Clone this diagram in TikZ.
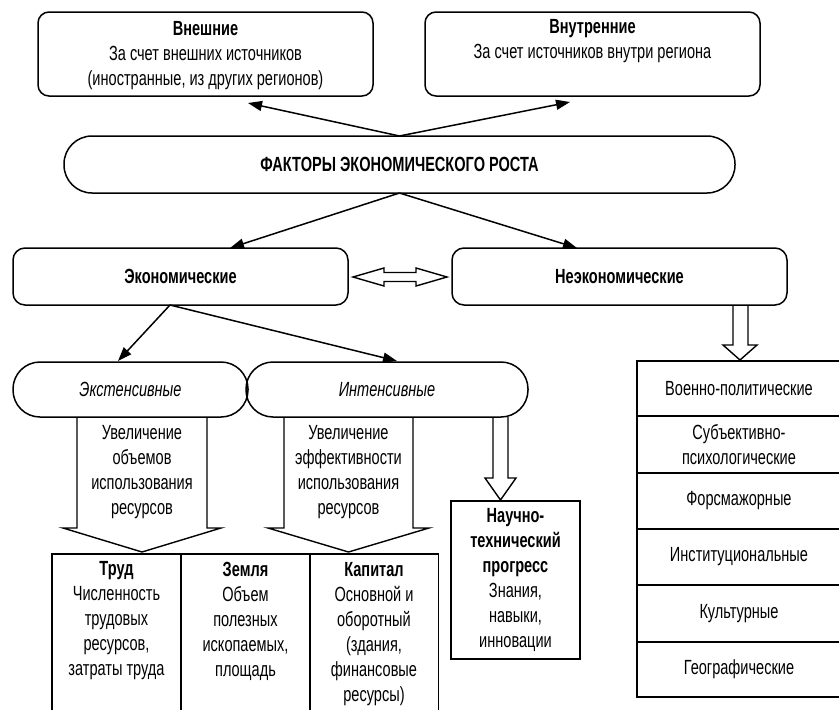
\documentclass[tikz,border=0pt]{standalone}
\usepackage{fontspec}
\setmainfont[FakeStretch=0.71]{Liberation Sans}
\usetikzlibrary{arrows.meta}
\begin{document}
\begin{tikzpicture}[x=1pt,y=-1pt,line width=1.5pt,
  every node/.style={font=\fontsize{20.5}{25}\selectfont, inner sep=0pt, outer sep=0pt},
  box/.style={draw, rounded corners=#1},
  box/.default=11pt,
  lbl/.style={align=center},
  arr/.style={-{Triangle[length=14pt,width=10pt]}},
  blk/.style={draw, line width=1.4pt, line join=miter},
  cell/.style={draw, minimum width=204pt, align=center},
  col/.style={draw, minimum width=129pt, minimum height=170pt, anchor=north}]

\useasboundingbox (0,0) rectangle (839,710);

% top boxes
\node[box, minimum width=335pt, minimum height=84pt] (ext) at (205.5,54) {};
\node[lbl] (extt) at (205.5,55.5) {\textbf{Внешние}\\За счет внешних источников\\(иностранные, из других регионов)};
\node[box, minimum width=335pt, minimum height=84pt] (int) at (592.5,54) {};
\node[lbl] (intt) at (592.5,41.5) {\textbf{Внутренние}\\За счет источников внутри региона};

\node[box=28pt, minimum width=671pt, minimum height=57pt] (fac) at (399.5,164.5) {\textbf{ФАКТОРЫ ЭКОНОМИЧЕСКОГО РОСТА}};

\node[box=12pt, minimum width=335pt, minimum height=57pt] (eco) at (180.5,276.5) {\textbf{Экономические}};
\node[box=12pt, minimum width=335pt, minimum height=57pt] (neco) at (619.5,276.5) {\textbf{Неэкономические}};

\node[box=27pt, minimum width=235pt, minimum height=55pt] (extn) at (130.5,389.5) {\itshape Экстенсивные};
\node[box=27pt, minimum width=282pt, minimum height=55pt] (intn) at (387,389.5) {\itshape Интенсивные};

% connectors
\coordinate (eT) at (248,103);
\coordinate (iT) at (570,102);
\draw[arr] (fac.north) -- (eT);
\draw[arr] (fac.north) -- (iT);
\coordinate (ecoT) at (230,248);
\coordinate (necoT) at (577,248);
\draw[arr] (fac.south) -- (ecoT);
\draw[arr] (fac.south) -- (necoT);
\coordinate (ecoB) at (170,305);
\coordinate (extT) at (118,361);
\coordinate (intT) at (397,361);
\draw[arr] (ecoB) -- (extT);
\draw[arr] (ecoB) -- (intT);

% double block arrow
\draw[blk] (353,277) -- (384,268) -- (384,272.5) -- (416,272.5) -- (416,268) -- (447,277)
  -- (416,286) -- (416,281.5) -- (384,281.5) -- (384,286) -- cycle;

% block arrows
\draw[blk] (77,417) -- (77,528) -- (63,528) -- (142,552) -- (221,528) -- (207,528) -- (207,417);
\node[lbl] (extd) at (142,472) {Увеличение\\объемов\\использования\\ресурсов};
\draw[blk] (284,417) -- (284,528) -- (268,528) -- (348.5,552) -- (429,528) -- (413,528) -- (413,417);
\node[lbl] (intd) at (348.5,472) {Увеличение\\эффективности\\использования\\ресурсов};
\draw[blk] (493,417) -- (493,478) -- (485,478) -- (500.5,500) -- (516,478) -- (508,478) -- (508,417);
\draw[blk] (733,305) -- (733,345) -- (723,345) -- (740,360) -- (757,345) -- (748,345) -- (748,305);

% bottom columns
\node[col] (trud) at (116.5,554) {};
\node[col] (zem) at (245.5,554) {};
\node[col] (kap) at (374,554) {};
\node[lbl] (trudt) at (116.5,621) {\textbf{Труд}\\Численность\\трудовых\\ресурсов,\\затраты труда};
\node[lbl] (zemt) at (245.5,621) {\textbf{Земля}\\Объем\\полезных\\ископаемых,\\площадь};
\node[lbl] (kapt) at (374,634.5) {\textbf{Капитал}\\Основной и\\оборотный\\(здания,\\финансовые\\ресурсы)};

\node[draw, minimum width=129pt, minimum height=158pt] (nauka) at (515.5,580) {};
\node[lbl] (naukat) at (515.5,580)
  {\textbf{Научно-}\\\textbf{технический}\\\textbf{прогресс}\\Знания,\\навыки,\\инновации};

% table
\node[cell, minimum height=55pt] (r1) at (739,388.5) {Военно-политические};
\node[cell, minimum height=57pt] (r2) at (739,444.5) {Субъективно-\\психологические};
\node[cell, minimum height=56pt] (r3) at (739,501) {Форсмажорные};
\node[cell, minimum height=56pt] (r4) at (739,557) {Институциональные};
\node[cell, minimum height=57pt] (r5) at (739,613.5) {Культурные};
\node[cell, minimum height=55pt] (r6) at (739,669.5) {Географические};
\end{tikzpicture}
\end{document}
